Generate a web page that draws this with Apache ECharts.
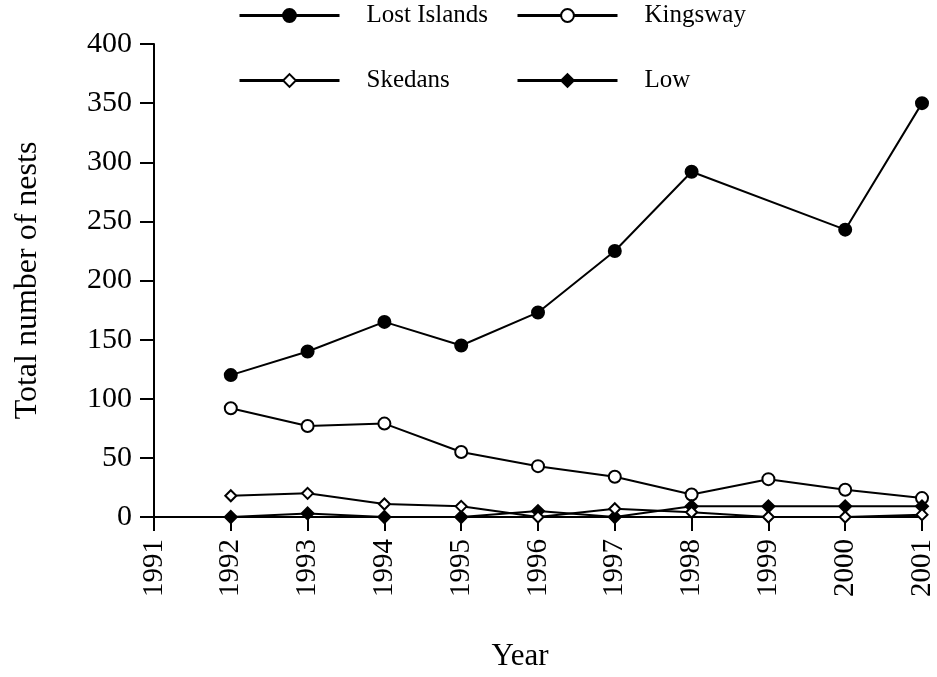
<!DOCTYPE html>
<html>
<head>
<meta charset="utf-8">
<script src="https://cdn.jsdelivr.net/npm/echarts@6/dist/echarts.min.js"></script>
<style>
  html, body { margin: 0; padding: 0; background: #fff; }
  #chart { width: 937px; height: 677px; }
</style>
</head>
<body>
<div id="chart"></div>
<script>
// Nest counts per colony, 1992–2001 (null = not surveyed)
const years = [1992, 1993, 1994, 1995, 1996, 1997, 1998, 1999, 2000, 2001];
const lostIslands = [120, 140, 165, 145, 173, 225, 292, null, 243, 350];
const kingsway    = [92, 77, 79, 55, 43, 34, 19, 32, 23, 16];
const skedans     = [18, 20, 11, 9, 0, 7, 4, 0, 0, 2];
const low         = [0, 3, 0, 0, 5, 0, 9, 9, 9, 9];

const FONT = '"Liberation Serif", "Times New Roman", serif';

const pairs = vals => years.map((y, i) => [y, vals[i]]);

function lineSeries(name, vals, symbol, fill, size) {
  return {
    name: name,
    type: 'line',
    data: pairs(vals),
    connectNulls: true,
    symbol: symbol,
    symbolSize: size,
    showAllSymbol: true,
    lineStyle: { color: '#000', width: 2 },
    itemStyle: { color: fill, borderColor: '#000', borderWidth: 2 },
    emphasis: { disabled: true },
    animation: false
  };
}

function legendAt(name, left, top) {
  return {
    data: [name],
    left: left,
    top: top,
    padding: 0,
    itemWidth: 100,
    itemHeight: 16,
    lineStyle: { width: 3, color: '#000' },
    textStyle: { fontFamily: FONT, fontSize: 25, color: '#000', padding: [0, 0, 0, 22] },
    selectedMode: false
  };
}

const chart = echarts.init(document.getElementById('chart'), null, { renderer: 'canvas' });
chart.setOption({
  backgroundColor: '#fff',
  animation: false,
  legend: [
    legendAt('Lost Islands', 238, 3),
    legendAt('Kingsway', 516, 3),
    legendAt('Skedans', 238, 68),
    legendAt('Low', 516, 68)
  ],
  grid: { left: 154, right: 15, top: 44, bottom: 157 },
  xAxis: {
    type: 'value',
    min: 1991,
    max: 2001,
    interval: 1,
    name: 'Year',
    nameLocation: 'middle',
    nameGap: 124,
    nameTextStyle: { fontFamily: FONT, fontSize: 31, color: '#000', padding: [0, 36, 0, 0] },
    axisLine: { onZero: false, lineStyle: { color: '#000', width: 2 } },
    axisTick: { show: true, length: 14, lineStyle: { color: '#000', width: 2 } },
    axisLabel: {
      rotate: 90, margin: 22, fontFamily: FONT, fontSize: 29, color: '#000',
      formatter: v => String(v)
    },
    splitLine: { show: false }
  },
  yAxis: {
    type: 'value',
    min: 0,
    max: 400,
    interval: 50,
    name: 'Total number of nests',
    nameLocation: 'middle',
    nameGap: 110,
    nameTextStyle: { fontFamily: FONT, fontSize: 32, color: '#000' },
    axisLine: { show: true, lineStyle: { color: '#000', width: 2 } },
    axisTick: { show: true, length: 14, lineStyle: { color: '#000', width: 2 } },
    axisLabel: { margin: 22, fontFamily: FONT, fontSize: 30, color: '#000' },
    splitLine: { show: false }
  },
  series: [
    lineSeries('Lost Islands', lostIslands, 'circle', '#000', 12),
    lineSeries('Kingsway', kingsway, 'circle', '#fff', 12),
    lineSeries('Low', low, 'diamond', '#000', 12),
    lineSeries('Skedans', skedans, 'diamond', '#fff', 11)
  ]
});
</script>
</body>
</html>
